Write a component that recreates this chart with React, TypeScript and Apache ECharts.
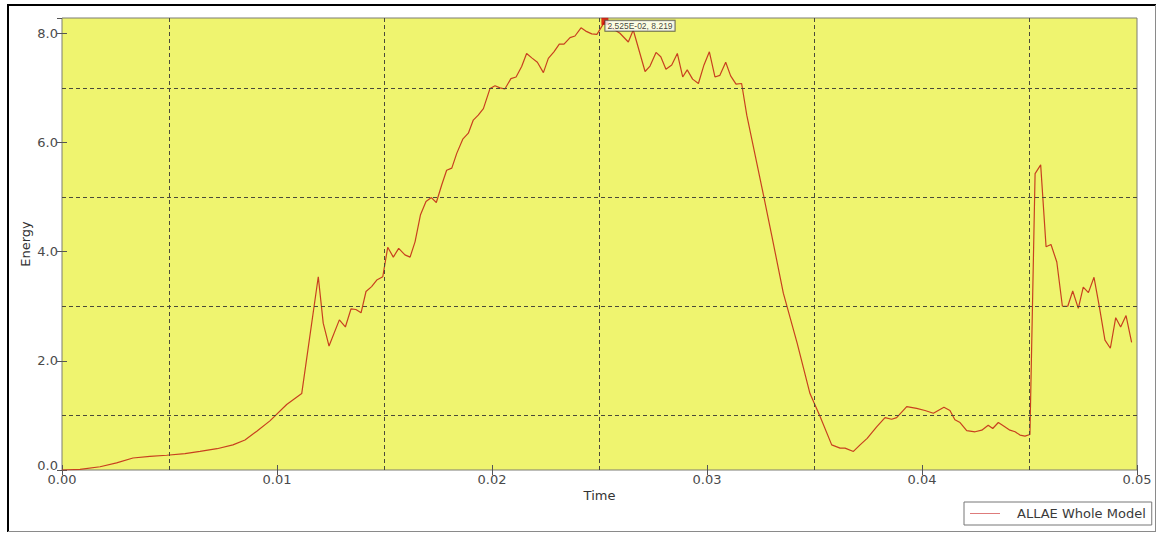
import React, { useEffect, useRef } from "react";
import * as echarts from "echarts";

// Whole-model artificial strain energy (ALLAE) against time
const times = [
  0, 0.00084, 0.00177, 0.00254, 0.0033, 0.00409, 0.00487, 0.00572, 0.00642, 0.00721,
  0.00795, 0.00851, 0.00906, 0.00967, 0.01045, 0.01115, 0.01192, 0.01215, 0.01242, 0.0129,
  0.01318, 0.01344, 0.01367, 0.01391, 0.01414, 0.0144, 0.01464, 0.01492, 0.01515, 0.01541,
  0.01566, 0.01595, 0.01619, 0.01642, 0.01667, 0.01693, 0.01718, 0.01741, 0.01766, 0.01789,
  0.01813, 0.01836, 0.01864, 0.0189, 0.01913, 0.01936, 0.0196, 0.01991, 0.02014, 0.02037,
  0.0206, 0.02088, 0.02112, 0.02138, 0.02161, 0.02185, 0.02211, 0.02239, 0.02262, 0.02288,
  0.02313, 0.02335, 0.02363, 0.02386, 0.02414, 0.02436, 0.02464, 0.02488, 0.02525, 0.02564,
  0.02595, 0.02634, 0.02657, 0.02712, 0.02735, 0.02763, 0.02785, 0.02809, 0.02836, 0.02862,
  0.02887, 0.02908, 0.02933, 0.0296, 0.02986, 0.03011, 0.03037, 0.0306, 0.03087, 0.0311,
  0.03135, 0.03161, 0.03185, 0.03262, 0.03301, 0.03355, 0.03419, 0.03479, 0.03526, 0.0358,
  0.03619, 0.03642, 0.03681, 0.03712, 0.03745, 0.03789, 0.03828, 0.03859, 0.03882, 0.03929,
  0.03975, 0.04014, 0.04053, 0.04102, 0.0413, 0.04153, 0.04177, 0.04208, 0.04247, 0.04278,
  0.04308, 0.04329, 0.04355, 0.04378, 0.04409, 0.04433, 0.04456, 0.04479, 0.04502, 0.04526,
  0.04552, 0.04577, 0.046, 0.04627, 0.04653, 0.04678, 0.04701, 0.04727, 0.0475, 0.04774,
  0.048, 0.04825, 0.04851, 0.04876, 0.04901, 0.04924, 0.04949, 0.04975,
];

const energy = [
  0, 0.01, 0.06, 0.13, 0.22, 0.25, 0.27, 0.3, 0.34, 0.39,
  0.46, 0.55, 0.71, 0.9, 1.2, 1.4, 3.54, 2.69, 2.27, 2.75,
  2.62, 2.95, 2.94, 2.88, 3.27, 3.36, 3.48, 3.54, 4.08, 3.9,
  4.06, 3.94, 3.9, 4.18, 4.67, 4.92, 4.99, 4.9, 5.22, 5.49,
  5.53, 5.8, 6.06, 6.17, 6.41, 6.5, 6.62, 6.99, 7.04, 7.0,
  6.98, 7.17, 7.2, 7.39, 7.63, 7.55, 7.47, 7.28, 7.54, 7.66,
  7.8, 7.8, 7.92, 7.95, 8.1, 8.04, 7.99, 7.98, 8.219, 8.08,
  8.0, 7.84, 8.06, 7.3, 7.4, 7.65, 7.57, 7.34, 7.42, 7.63,
  7.2, 7.33, 7.16, 7.08, 7.42, 7.66, 7.2, 7.23, 7.47, 7.22,
  7.07, 7.08, 6.5, 5.05, 4.3, 3.24, 2.33, 1.4, 0.98, 0.46,
  0.4, 0.4, 0.34, 0.46, 0.58, 0.79, 0.96, 0.93, 0.96, 1.16,
  1.13, 1.09, 1.04, 1.15, 1.09, 0.92, 0.87, 0.72, 0.7, 0.73,
  0.82, 0.76, 0.87, 0.81, 0.73, 0.7, 0.64, 0.62, 0.65, 5.43,
  5.59, 4.09, 4.13, 3.81, 3.0, 3.0, 3.28, 2.96, 3.35, 3.25,
  3.53, 2.99, 2.38, 2.23, 2.79, 2.62, 2.83, 2.34,
];

// Probed point shown with its readout
const peakPoint = [0.02525, 8.219];

// Dashed reference lines sit halfway between the labelled ticks
const gridTimes = [0.005, 0.015, 0.025, 0.035, 0.045];
const gridEnergies = [1, 3, 5, 7];

const timeRange = [0, 0.05];
const energyRange = [0, 8.28];

const seriesName = "ALLAE Whole Model";
const FONT = "DejaVu Sans";

function sciLabel(v: number): string {
  const [m, e] = v.toExponential(3).split("e");
  const n = parseInt(e, 10);
  const digits = String(Math.abs(n)).padStart(2, "0");
  return `${m}E${n < 0 ? "-" : ""}${digits}`;
}

export default function App() {
  const ref = useRef<HTMLDivElement>(null);

  useEffect(() => {
    if (!ref.current) return;
    const chart = echarts.init(ref.current, undefined, { renderer: "svg" });

    const tickCommon = {
      show: true,
      inside: true,
      length: 5,
      lineStyle: { color: "#555", width: 1 },
    };

    chart.setOption({
      animation: false,
      backgroundColor: "#ffffff",
      textStyle: { fontFamily: FONT },
      grid: {
        left: 62,
        top: 18,
        right: 19,
        bottom: 63,
        show: true,
        backgroundColor: "#eff46f",
        borderColor: "#7d7d72",
        borderWidth: 1,
      },
      legend: {
        data: [seriesName],
        left: 964,
        top: 502,
        orient: "horizontal",
        borderColor: "#777",
        borderWidth: 1,
        borderRadius: 0,
        padding: [5, 6, 5, 6],
        itemWidth: 30,
        itemHeight: 14,
        icon: "path://M0,7 L30,7 L30,8 L0,8 Z",
        itemStyle: { color: "#de7b7b" },
        textStyle: {
          fontFamily: FONT,
          fontSize: 13,
          color: "#3a3a3a",
          padding: [0, 0, 0, 12],
        },
      },
      xAxis: [
        {
          type: "value",
          min: timeRange[0],
          max: timeRange[1],
          interval: 0.01,
          name: "Time",
          nameLocation: "middle",
          nameGap: 19,
          nameMoveOverlap: false,
          nameTextStyle: { fontFamily: FONT, fontSize: 13, color: "#333" },
          axisLine: { show: false },
          axisTick: tickCommon,
          splitLine: { show: false },
          axisLabel: {
            margin: 3,
            fontFamily: FONT,
            fontSize: 13,
            color: "#4a4a4a",
            formatter: (v: number) => v.toFixed(2),
          },
        },
        {
          type: "value",
          position: "top",
          min: timeRange[0],
          max: timeRange[1],
          interval: 0.01,
          axisLine: { show: false },
          axisTick: tickCommon,
          splitLine: { show: false },
          axisLabel: { show: false },
        },
      ],
      yAxis: [
        {
          type: "value",
          min: energyRange[0],
          max: energyRange[1],
          interval: 2,
          name: "Energy",
          nameLocation: "middle",
          nameGap: 30,
          nameMoveOverlap: false,
          nameTextStyle: { fontFamily: FONT, fontSize: 13, color: "#333" },
          axisLine: { show: false },
          axisTick: tickCommon,
          splitLine: { show: false },
          axisLabel: {
            margin: 4,
            fontFamily: FONT,
            fontSize: 13,
            color: "#4a4a4a",
            showMaxLabel: false,
            formatter: (v: number) => {
              if (Math.abs(v / 2 - Math.round(v / 2)) > 1e-9) return "";
              return v === 0 ? `{low|${v.toFixed(1)}}` : v.toFixed(1);
            },
            rich: {
              low: {
                fontFamily: FONT,
                fontSize: 13,
                color: "#4a4a4a",
                padding: [0, 0, 9, 0],
              },
            },
          },
        },
        {
          type: "value",
          position: "right",
          min: energyRange[0],
          max: energyRange[1],
          interval: 2,
          axisLine: { show: false },
          axisTick: tickCommon,
          splitLine: { show: false },
          axisLabel: { show: false },
        },
      ],
      series: [
        {
          name: seriesName,
          type: "line",
          xAxisIndex: 0,
          yAxisIndex: 0,
          data: times.map((t, i) => [t, energy[i]]),
          symbol: "none",
          showSymbol: false,
          z: 3,
          lineStyle: { color: "#c8401f", width: 1.2 },
          itemStyle: { color: "#c8401f" },
          markLine: {
            silent: true,
            precision: 4,
            symbol: ["none", "none"],
            label: { show: false },
            animation: false,
            lineStyle: { color: "#4a4a3a", width: 1, type: [4, 3] },
            data: [
              ...gridTimes.map((x) => ({ xAxis: x })),
              ...gridEnergies.map((y) => ({ yAxis: y })),
            ],
          },
        },
        {
          name: "probe",
          type: "scatter",
          xAxisIndex: 0,
          yAxisIndex: 0,
          data: [peakPoint],
          symbol: "rect",
          symbolSize: 7,
          z: 5,
          clip: false,
          itemStyle: { color: "#d40000" },
          label: {
            show: true,
            position: [4, 3],
            align: "left",
            verticalAlign: "top",
            fontFamily: "Liberation Sans",
            fontSize: 8.5,
            color: "#111",
            backgroundColor: "#ffffff",
            borderColor: "#444",
            borderWidth: 1,
            padding: [1, 2, 0, 2],
            formatter: (p: any) =>
              `${sciLabel(p.value[0])}, ${p.value[1].toFixed(3)}`,
          },
        },
      ],
      graphic: [
        {
          type: "line",
          shape: { x1: 8, y1: 5, x2: 1156, y2: 5 },
          style: { stroke: "#000", lineWidth: 2 },
          silent: true,
        },
        {
          type: "line",
          shape: { x1: 8, y1: 4, x2: 8, y2: 532 },
          style: { stroke: "#000", lineWidth: 2 },
          silent: true,
        },
        {
          type: "line",
          shape: { x1: 8, y1: 531.5, x2: 1156, y2: 531.5 },
          style: { stroke: "#8a8a8a", lineWidth: 1 },
          silent: true,
        },
        {
          type: "line",
          shape: { x1: 1155.5, y1: 5, x2: 1155.5, y2: 532 },
          style: { stroke: "#8a8a8a", lineWidth: 1 },
          silent: true,
        },
      ],
    });

    return () => chart.dispose();
  }, []);

  return (
    <div
      ref={ref}
      style={{ position: "fixed", left: 0, top: 0, width: 1156, height: 533 }}
    />
  );
}
